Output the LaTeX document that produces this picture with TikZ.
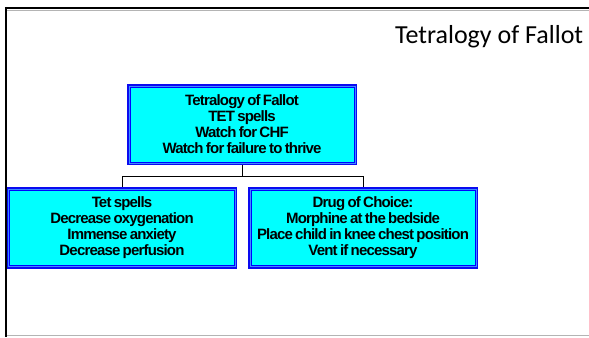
\documentclass[tikz,border=0pt]{standalone}
\usepackage{fontspec}
\newfontfamily\boxfont{Liberation Sans Bold}[LetterSpace=-5.5, WordSpace=0.7]
\newfontfamily\titlefont{Carlito}
\definecolor{bandblue}{HTML}{0A0AF0}
\definecolor{stripeblue}{HTML}{3C8CFF}
\definecolor{lineblue}{HTML}{0000FF}
\definecolor{boxcyan}{HTML}{00FFFF}
\definecolor{rulegray}{HTML}{B4B4B4}
\begin{document}
\begin{tikzpicture}[x=1bp,y=-1bp,
  chartbox/.style={rectangle, draw=bandblue, line width=3.4bp, fill=boxcyan,
    minimum width=227bp, minimum height=78bp, inner sep=0pt,
    align=center, font=\boxfont\fontsize{15bp}{16bp}\selectfont, text=black},
  stripe/.style={draw=stripeblue, line width=1bp},
  innerline/.style={draw=lineblue, line width=1bp},
  link/.style={draw=black, line width=0.9bp},
  frameline/.style={draw=black, line width=2.4bp},
  thinrule/.style={draw=rulegray, line width=1bp}]
\useasboundingbox (0,0) rectangle (589,337);
\fill[white] (0,0) rectangle (589,337);

% slide frame
\draw[thinrule] (7,10.2) -- (589,10.2);
\draw[thinrule] (7,335.8) -- (589,335.8);
\draw[frameline] (4.8,8) -- (589,8);
\draw[frameline] (6,6.8) -- (6,337);

% slide title
\node[anchor=base west, inner sep=0pt, font=\titlefont\fontsize{26bp}{30bp}\selectfont]
  (title) at (395,43) {Tetralogy of Fallot};

% chart boxes
\node[chartbox] (top) at (242,124.5) {Tetralogy of Fallot\\TET spells\\Watch for CHF\\Watch for failure to thrive};
\node[chartbox] (left) at (122,228) {Tet spells\\Decrease oxygenation\\Immense anxiety\\Decrease perfusion};
\node[chartbox] (right) at (363,228) {Drug of Choice:\\Morphine at the bedside\\Place child in knee chest position\\Vent if necessary};

% connectors
\draw[link] (top.south) -- ++(0,11) coordinate (split) -| (left.north);
\draw[link] (split) -| (right.north);

% inner double rule of each box
\foreach \n in {top,left,right}{
  \draw[stripe] ([shift={(2.2bp,-2.2bp)}]\n.north west) rectangle ([shift={(-2.2bp,2.2bp)}]\n.south east);
  \draw[innerline] ([shift={(3.2bp,-3.2bp)}]\n.north west) rectangle ([shift={(-3.2bp,3.2bp)}]\n.south east);
}
\end{tikzpicture}
\end{document}
